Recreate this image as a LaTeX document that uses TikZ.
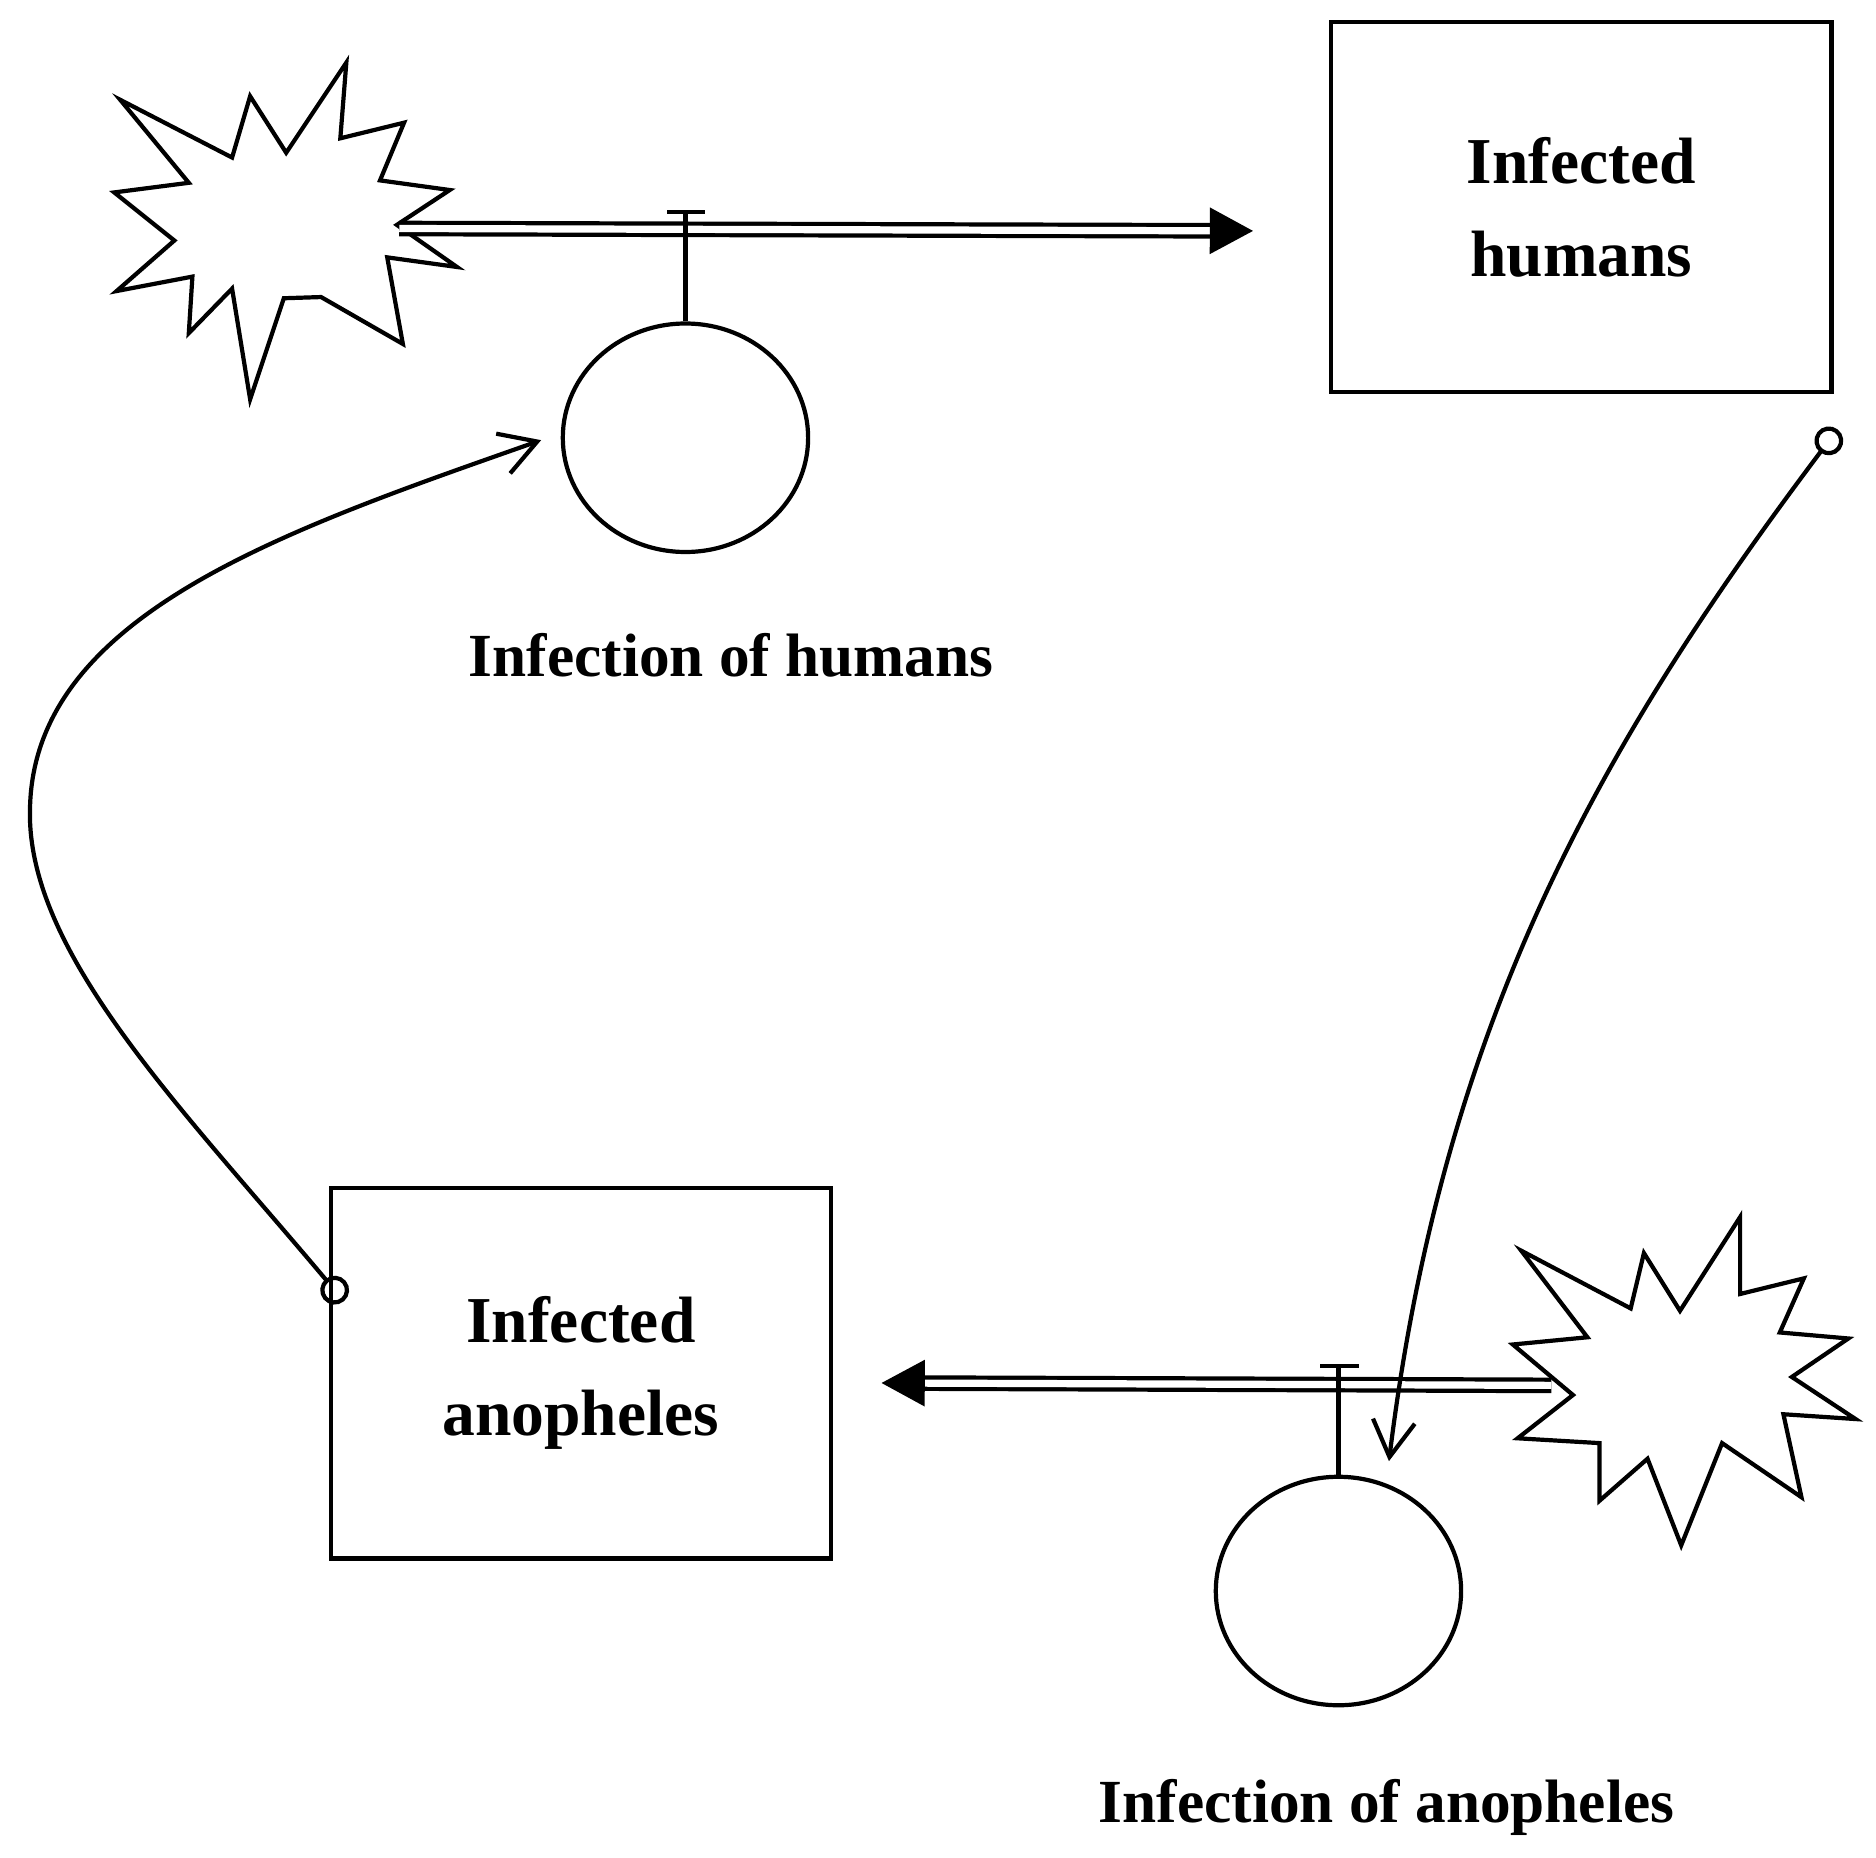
\documentclass[tikz,border=0pt]{standalone}
\usepackage{fontspec}
\setmainfont{Liberation Serif}
\usetikzlibrary{arrows.meta,shapes.geometric}
\begin{document}
\begin{tikzpicture}[x=0.1mm,y=-0.1mm,line width=0.35mm,
  stock/.style={draw,minimum width=41.6mm,minimum height=30.8mm,align=center,font=\fontsize{15.5}{22}\selectfont\bfseries},
  conv/.style={draw,ellipse,minimum width=20.4mm,minimum height=19mm,inner sep=0},
  lab/.style={font=\fontsize{14.5}{17}\selectfont\bfseries},
  flow/.style={double,double distance=0.6mm,line width=0.35mm,-{Triangle[length=3.6mm,width=3.8mm]}},
  link/.style={{Circle[open,length=2.4mm,width=2.4mm]}-{Straight Barb[length=3mm,width=3.5mm]}}]
\useasboundingbox (0,0) rectangle (1560,1545);
\draw (100,83)--(193,131)--(208,80)--(238,127)--(288,52)--(283,115)--(336,102)--(316,150)--(374,158)--(330,187)--(380,222)--(322,214)--(335,286)--(267,247)--(236,248)--(208,332)--(193,240)--(157,277)--(160,230)--(97,242)--(145,200)--(95,160)--(157,152)--cycle;
\draw (1265,1040)--(1356,1088)--(1367,1042)--(1397,1090)--(1447,1012)--(1447,1076)--(1500,1063)--(1480,1108)--(1537,1113)--(1490,1145)--(1543,1180)--(1483,1176)--(1498,1245)--(1432,1200)--(1398,1285)--(1370,1213)--(1330,1248)--(1330,1200)--(1262,1196)--(1308,1160)--(1258,1118)--(1320,1112)--cycle;
\coordinate (s1) at (332,190); \coordinate (t1) at (1042,192);
\coordinate (s2) at (1290,1152); \coordinate (t2) at (733,1150);
\draw[flow] (s1) -- (t1);
\draw[flow] (s2) -- (t2);
\node[stock] (ih) at (1315,172) {Infected\\humans};
\node[stock] (ia) at (483,1142) {Infected\\anopheles};
\node[conv] (c1) at (570,364) {};
\node[conv] (c2) at (1113,1323) {};
\draw (c1.north) -- (570,176); \draw (555,176) -- (586,176);
\draw (c2.north) -- (1113,1136); \draw (1098,1136) -- (1130,1136);
\node[lab] (l1) at (608,545) {Infection of humans};
\node[lab] (l2) at (1153,1503) {Infection of anopheles};
\coordinate (a1) at (1528,357); \coordinate (b1) at (1155,1215);
\coordinate (a2) at (286,1082); \coordinate (b2) at (450,366);
\draw[link] (a1) .. controls (1330,620) and (1200,850) .. (b1);
\draw[link] (a2) .. controls (150,920) and (20,790) .. (25,670) .. controls (30,510) and (240,440) .. (b2);
\end{tikzpicture}
\end{document}
